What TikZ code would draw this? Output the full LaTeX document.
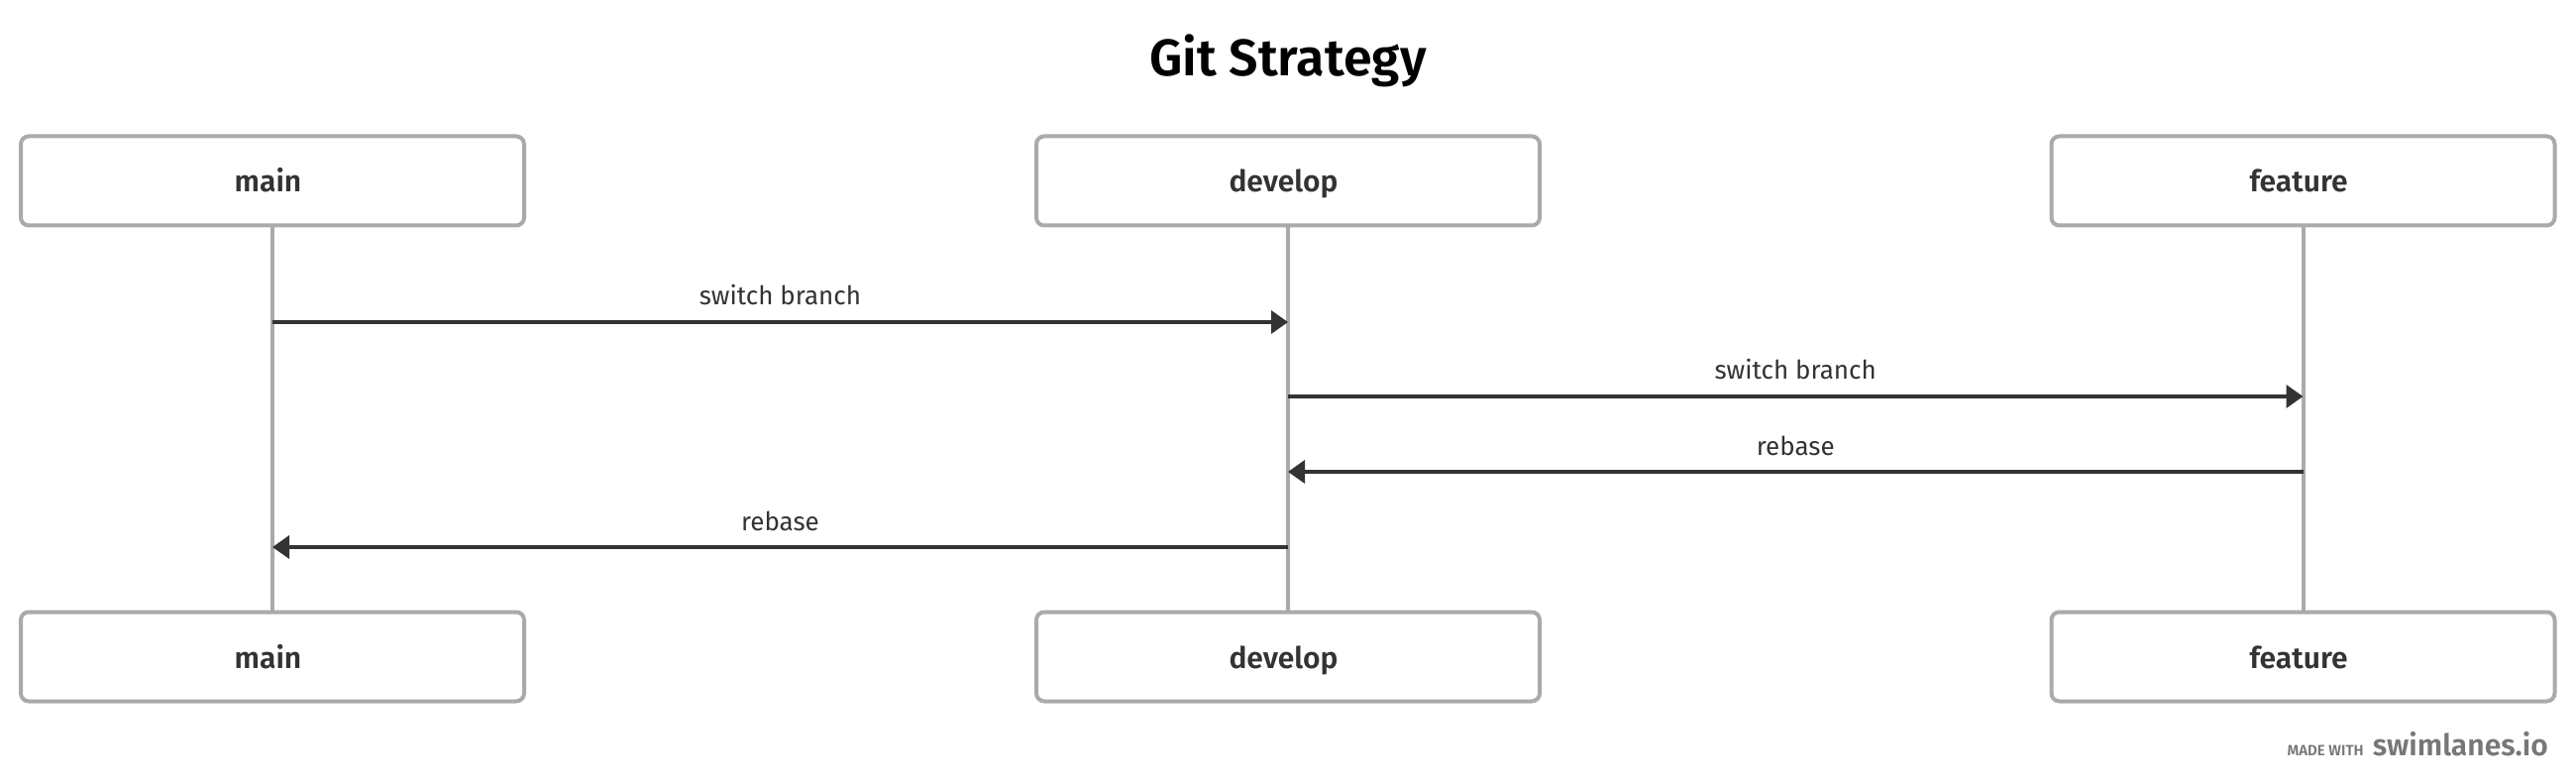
\documentclass[tikz,border=0pt]{standalone}
\usepackage{fontspec}
\setmainfont{Fira Sans}
\newfontfamily\semib{Fira Sans SemiBold}
\usetikzlibrary{arrows.meta}
\definecolor{boxgray}{HTML}{AAAAAA}
\definecolor{ink}{HTML}{333333}
\definecolor{foot}{HTML}{777777}
\tikzset{
  actor/.style={draw=boxgray, line width=4pt, rounded corners=8pt, minimum width=508pt,
    minimum height=90pt, inner sep=0pt, fill=white, text=ink, text height=23pt, text depth=0pt,
    font=\semib\fontsize{30}{36}\selectfont, execute at end node={\hspace*{9pt}}},
  life/.style={draw=boxgray, line width=4pt},
  msg/.style={draw=ink, line width=3.5pt, -{Triangle[length=17pt,width=23pt]}},
  lbl/.style={anchor=base, text=ink, font=\fontsize{26}{31}\selectfont, yshift=17pt}
}
\begin{document}
\begin{tikzpicture}[x=1pt,y=-1pt]
\useasboundingbox[fill=white] (0,0) rectangle (2600,791);
\node[anchor=base, text=black, font=\semib\fontsize{52}{60}\selectfont] (title) at (1300,77) {Git Strategy};
% lifelines coordinates
\coordinate (mT) at (275,227); \coordinate (mB) at (275,617);
\coordinate (dT) at (1300,227); \coordinate (dB) at (1300,617);
\coordinate (fT) at (2324.5,227); \coordinate (fB) at (2324.5,617);
\draw[life] (mT) -- (mB);
\draw[life] (dT) -- (dB);
\draw[life] (fT) -- (fB);
\node[actor] (mainT) at (275,182.5) {main};
\node[actor] (devT) at (1300,182.5) {develop};
\node[actor] (featT) at (2324.5,182.5) {feature};
\node[actor] (mainB) at (275,662.5) {main};
\node[actor] (devB) at (1300,662.5) {develop};
\node[actor] (featB) at (2324.5,662.5) {feature};
% message points
\coordinate (m1) at (275,325); \coordinate (d1) at (1300,325);
\coordinate (d2) at (1300,400); \coordinate (f2) at (2324.5,400);
\coordinate (f3) at (2324.5,476); \coordinate (d3) at (1300,476);
\coordinate (d4) at (1300,552); \coordinate (m4) at (275,552);
\draw[msg] (m1) -- node[lbl] (l1) {switch branch} (d1);
\draw[msg] (d2) -- node[lbl] (l2) {switch branch} (f2);
\draw[msg] (f3) -- node[lbl] (l3) {rebase} (d3);
\draw[msg] (d4) -- node[lbl] (l4) {rebase} (m4);
% footer
\node[anchor=base east, inner sep=0pt, text=foot, font=\semib\fontsize{30}{36}\selectfont] (brand) at (2572,762) {swimlanes.io};
\node[anchor=base east, inner sep=0pt, text=foot, font=\semib\fontsize{15}{18}\selectfont] (made) at ([xshift=-9pt]brand.base west) {MADE WITH};
\end{tikzpicture}
\end{document}
